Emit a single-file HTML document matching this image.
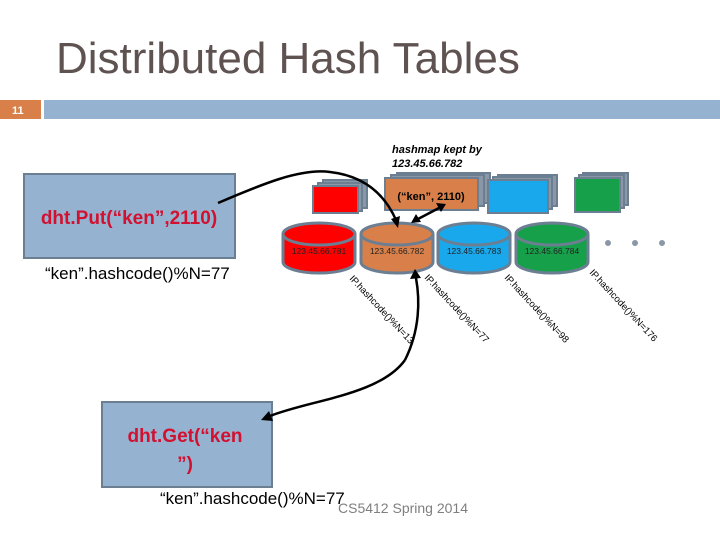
<!DOCTYPE html>
<html><head><meta charset="utf-8"><style>
body{margin:0;width:720px;height:540px;background:#fff;overflow:hidden;font-family:"Liberation Sans",sans-serif}
</style></head><body>
<svg width="720" height="540" xmlns="http://www.w3.org/2000/svg" font-family="Liberation Sans, sans-serif">
<text x="56" y="73" font-size="44" fill="#5f5352">Distributed Hash Tables</text>
<rect x="0" y="100" width="41" height="19" fill="#d9804a"/>
<text x="12" y="114" font-size="11" font-weight="bold" fill="#fff">11</text>
<rect x="44" y="100" width="676" height="19" fill="#95b3d0"/>

<rect x="24" y="174" width="211" height="84" fill="#95b3d0" stroke="#6b7e92" stroke-width="2"/>
<text x="129" y="224" font-size="19" font-weight="bold" fill="#d21030" text-anchor="middle">dht.Put(“ken”,2110)</text>
<text x="45" y="279" font-size="17" fill="#000">“ken”.hashcode()%N=77</text>

<rect x="102" y="402" width="170" height="85" fill="#95b3d0" stroke="#6b7e92" stroke-width="2"/>
<text x="185" y="442" font-size="19" font-weight="bold" fill="#d21030" text-anchor="middle">dht.Get(“ken</text>
<text x="185" y="470" font-size="19" font-weight="bold" fill="#d21030" text-anchor="middle">”)</text>

<text x="392" y="153" font-size="11" font-weight="bold" font-style="italic">hashmap kept by</text>
<text x="392" y="167" font-size="11" font-weight="bold" font-style="italic">123.45.66.782</text>

<g stroke="#6b7e92" stroke-width="2">
<rect x="323" y="180" width="44" height="28" fill="#8a97a6"/><rect x="318" y="183" width="44" height="28" fill="#8a97a6"/>
<rect x="313" y="186" width="45" height="27" fill="#f00"/>
<rect x="397" y="173" width="93" height="30" fill="#8a97a6"/><rect x="391" y="175" width="93" height="31" fill="#8a97a6"/>
<rect x="385" y="178" width="93" height="32" fill="#d9804a"/>
<rect x="498" y="175" width="59" height="31" fill="#8a97a6"/><rect x="493" y="177" width="59" height="32" fill="#8a97a6"/>
<rect x="488" y="180" width="60" height="33" fill="#19a8ec"/>
<rect x="583" y="173" width="45" height="32" fill="#8a97a6"/><rect x="579" y="175" width="45" height="33" fill="#8a97a6"/>
<rect x="575" y="178" width="45" height="34" fill="#16a04a"/>
</g>
<text x="431" y="200" font-size="11" font-weight="bold" text-anchor="middle">(“ken”, 2110)</text>

<g stroke="#6b7e92" stroke-width="3">
<path d="M283,234 v28 a36,11 0 0 0 72,0 v-28" fill="#f00"/><ellipse cx="319" cy="234" rx="36" ry="11" fill="#f00"/>
<path d="M361,234 v28 a36,11 0 0 0 72,0 v-28" fill="#d9804a"/><ellipse cx="397" cy="234" rx="36" ry="11" fill="#d9804a"/>
<path d="M438,234 v28 a36,11 0 0 0 72,0 v-28" fill="#19a8ec"/><ellipse cx="474" cy="234" rx="36" ry="11" fill="#19a8ec"/>
<path d="M516,234 v28 a36,11 0 0 0 72,0 v-28" fill="#16a04a"/><ellipse cx="552" cy="234" rx="36" ry="11" fill="#16a04a"/>
</g>
<g font-size="8.5" fill="#222" text-anchor="middle">
<text x="319" y="254">123.45.66.781</text><text x="397" y="254">123.45.66.782</text>
<text x="474" y="254">123.45.66.783</text><text x="552" y="254">123.45.66.784</text>
</g>
<g fill="#8a97a6"><circle cx="608" cy="243" r="3"/><circle cx="635" cy="243" r="3"/><circle cx="662" cy="243" r="3"/></g>

<g font-size="9.5" fill="#000">
<text transform="translate(349,279) rotate(47)">IP.hashcode()%N=13</text>
<text transform="translate(424,278) rotate(47)">IP.hashcode()%N=77</text>
<text transform="translate(504,278) rotate(47)">IP.hashcode()%N=98</text>
<text transform="translate(589,273) rotate(47)">IP.hashcode()%N=176</text>
</g>

<g fill="none" stroke="#000" stroke-width="2.5">
<path d="M218,203 C260,185 300,168 330,172 C365,176 385,195 396,220"/>
<path d="M418,219 L439,208"/>
<path d="M405,360 C420,330 420,300 416,278"/>
<path d="M405,360 C380,395 310,400 270,416"/>
</g>
<g fill="#000">
<polygon points="398,228 391,219 400,216"/>
<polygon points="411,223 416,214 421,222"/>
<polygon points="446,204 436,203 441,212"/>
<polygon points="415,269 410,279 421,278"/>
<polygon points="261,420 269,411 273,421"/>
</g>

<text x="160" y="504" font-size="17" fill="#000">“ken”.hashcode()%N=77</text>
<text x="338" y="513" font-size="14" fill="#7f7f7f">CS5412 Spring 2014</text>
</svg>
</body></html>
